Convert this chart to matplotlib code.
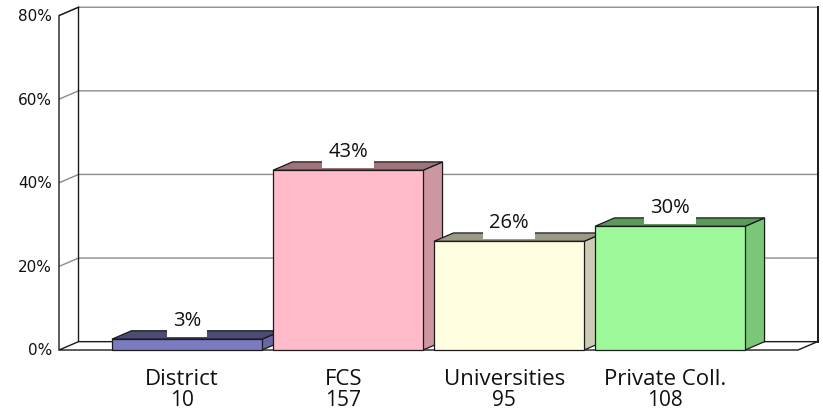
import matplotlib.pyplot as plt
from matplotlib.patches import Polygon

# data
categories = ['District', 'FCS', 'Universities', 'Private Coll.']
counts = [10, 157, 95, 108]
percents = [2.6, 43.0, 26.0, 29.6]
y_ticks = [0, 20, 40, 60, 80]

front_colors = ['#7B7BC0', '#FFBBC9', '#FFFDE0', '#9DF89A']
top_colors = ['#4B4B74', '#9F737A', '#9A9A86', '#5A995A']
side_colors = ['#6767A3', '#CC97A0', '#CCCBB6', '#79C777']

# fake 3D geometry (category units / percent units)
BAR_W = 0.466
DX, DY = 0.121, 2.0
FLOOR_L, FLOOR_R = -0.795, 3.795
EDGE = '#1a1a1a'
GRID = '#8c8c8c'

fig = plt.figure(figsize=(8.23, 4.09), dpi=100)
ax = fig.add_axes([0, 0, 1, 1])
ax.set_xlim(-1.1615, 3.950)
ax.set_ylim(-14.11, 83.73)
ax.axis('off')

# walls
left_wall = [(FLOOR_L, 0), (FLOOR_L, y_ticks[-1]), (FLOOR_L + DX, y_ticks[-1] + DY), (FLOOR_L + DX, DY)]
ax.add_patch(Polygon(left_wall, closed=True, fc='white', ec='none', zorder=1))
ax.add_patch(Polygon([(FLOOR_L + DX, DY), (FLOOR_R + DX, DY),
                      (FLOOR_R + DX, y_ticks[-1] + DY), (FLOOR_L + DX, y_ticks[-1] + DY)],
                     closed=True, fc='white', ec='none', zorder=1))

# gridlines on the left and back wall
for t in y_ticks[1:]:
    ax.plot([FLOOR_L, FLOOR_L + DX, FLOOR_R + DX], [t, t + DY, t + DY],
            color=GRID, lw=1.0, zorder=2, solid_capstyle='butt')

# wall outlines
ax.plot([FLOOR_L, FLOOR_L, FLOOR_L + DX], [0, y_ticks[-1], y_ticks[-1] + DY], color=EDGE, lw=1, zorder=3)
ax.plot([FLOOR_L + DX, FLOOR_L + DX], [DY, y_ticks[-1] + DY], color=EDGE, lw=1, zorder=3)
ax.plot([FLOOR_R + DX, FLOOR_R + DX], [DY, y_ticks[-1] + DY], color=EDGE, lw=1.4, zorder=3)

# floor
floor = [(FLOOR_L, 0), (FLOOR_R, 0), (FLOOR_R + DX, DY), (FLOOR_L + DX, DY)]
ax.add_patch(Polygon(floor, closed=True, fc='white', ec=EDGE, lw=1, zorder=4))

# y tick labels
for t in y_ticks:
    ax.text(FLOOR_L - 0.045, t - 0.2, f'{t}%', ha='right', va='center',
            fontsize=11, family='DejaVu Sans', color='#111111')

# bars
for i, (p, fc, tc, sc) in enumerate(zip(percents, front_colors, top_colors, side_colors)):
    x0, x1 = i - BAR_W, i + BAR_W
    z = 10 + i * 3
    side = [(x1, 0), (x1 + DX, DY), (x1 + DX, p + DY), (x1, p)]
    top = [(x0, p), (x1, p), (x1 + DX, p + DY), (x0 + DX, p + DY)]
    front = [(x0, 0), (x1, 0), (x1, p), (x0, p)]
    ax.add_patch(Polygon(side, closed=True, fc=sc, ec=EDGE, lw=0.9, zorder=z))
    ax.add_patch(Polygon(top, closed=True, fc=tc, ec=EDGE, lw=0.9, zorder=z + 1))
    ax.add_patch(Polygon(front, closed=True, fc=fc, ec=EDGE, lw=0.9, zorder=z + 2))

# value labels with white box
for i, p in enumerate(percents):
    ax.annotate(f'{p:.0f}%', xy=(i, p), xytext=(0, 9.4), textcoords='offset points',
                ha='center', va='baseline', fontsize=14.5, family='Open Sans', color='#111111',
                bbox=dict(boxstyle='square,pad=0.3', fc='white', ec='none'), zorder=40)

# category labels with counts
for i, (name, n) in enumerate(zip(categories, counts)):
    ax.text(i - 0.03, -8.4, name, ha='center', va='baseline', fontsize=16,
            family='Open Sans', color='#111111')
    ax.text(i - 0.03, -13.3, str(n), ha='center', va='baseline', fontsize=15,
            family='Open Sans', color='#111111')

fig.savefig('out.png', dpi=100)
